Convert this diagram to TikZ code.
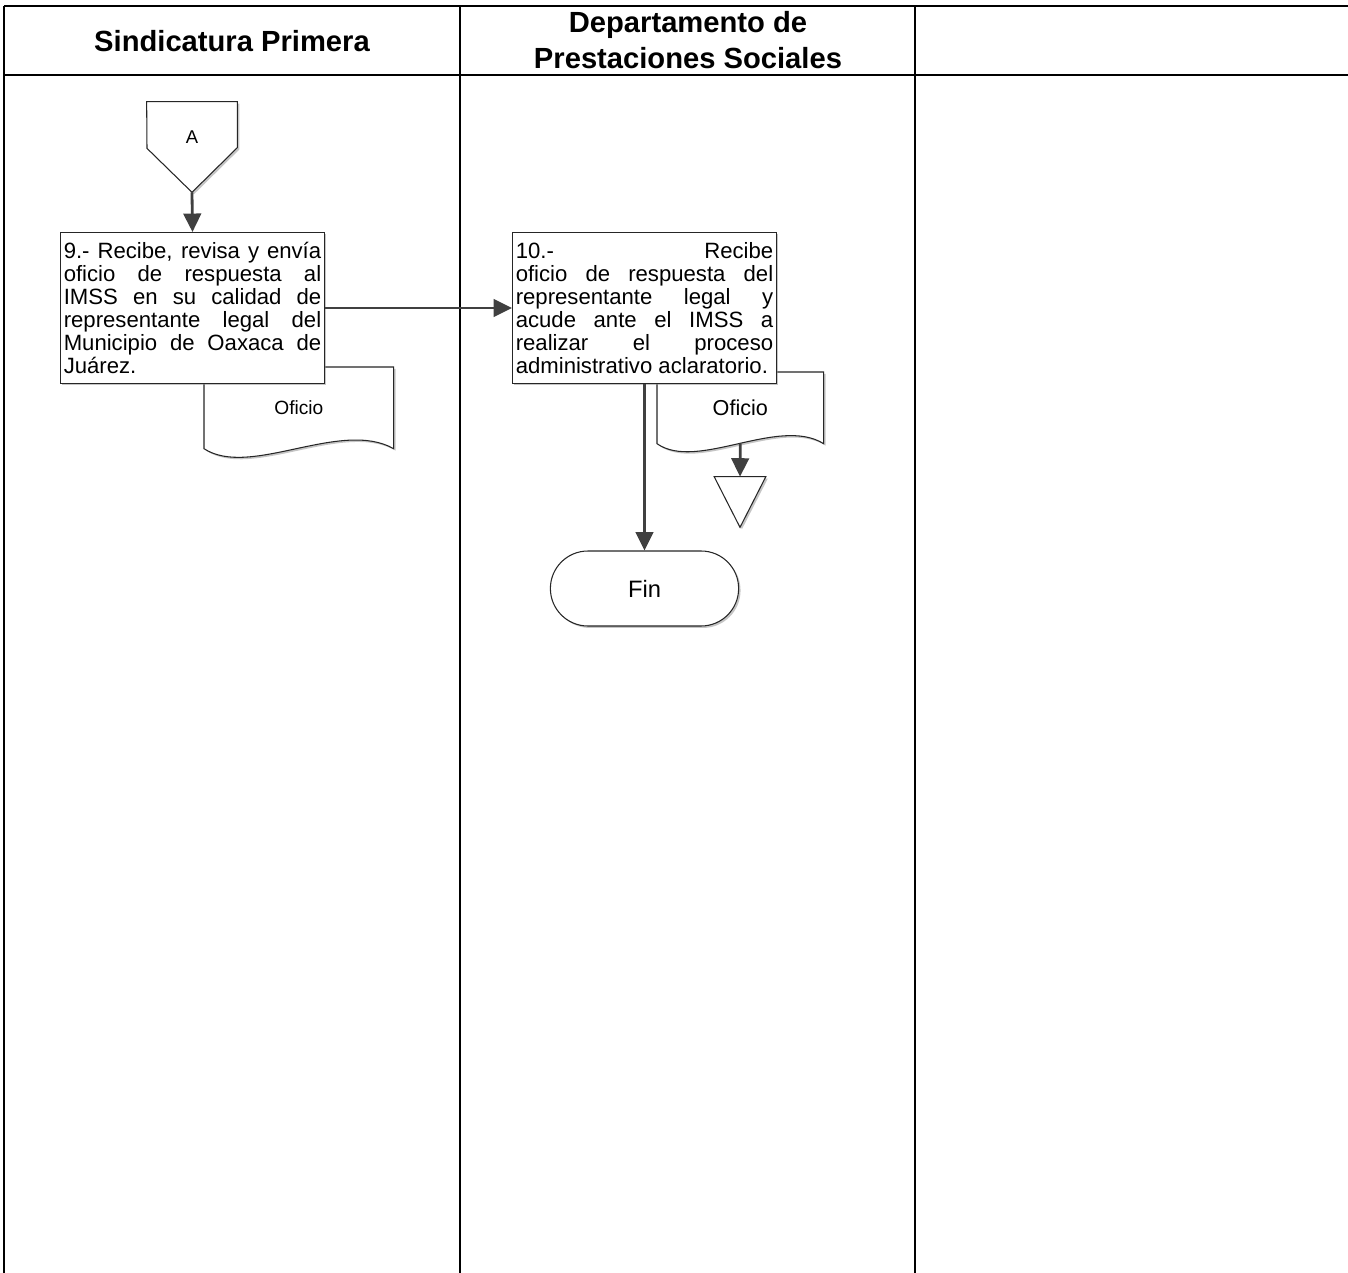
\documentclass[tikz,border=0pt]{standalone}
\usepackage{fontspec}
\setmainfont{Liberation Sans}
\usepackage{xcolor}
\usetikzlibrary{arrows.meta,positioning,shapes.misc,shadows,backgrounds}
\definecolor{linegray}{HTML}{404040}

\begin{document}
\begin{tikzpicture}[
  x=0.02cm, y=-0.02cm,
  lane/.style={line width=0.8pt},
  head/.style={line width=1.6pt},
  title/.style={align=center, font=\fontsize{16.6}{20.5}\selectfont\bfseries},
  shadowed/.style={drop shadow={shadow xshift=1.1pt, shadow yshift=-1.1pt, fill=black!45, opacity=0.5}},
  proc/.style={draw=black!85, line width=0.6pt, fill=white, shadowed, anchor=north west,
    text width=5.15cm, inner xsep=0.065cm, minimum height=3.02cm, align=justify,
    font=\fontsize{12.6}{13.1}\selectfont,
    execute at begin node={\tolerance=10000\hyphenpenalty=10000}},
  doc/.style={anchor=north west, inner sep=0pt},
  docline/.style={draw=black!85, line width=0.6pt, fill=white, shadowed},
  term/.style={rounded rectangle, draw=black!85, line width=0.6pt, fill=white, shadowed,
    minimum width=4.0cm, minimum height=1.5cm, font=\fontsize{13.5}{15}\selectfont},
  arrow/.style={-{Triangle[length=10.5pt,width=10pt]}, draw=linegray, line width=1.6pt}
]
\useasboundingbox (0,0) rectangle (1348,1273);

% swimlanes
\draw[head] (4,6) -- (1348,6);
\draw[head] (4,75) -- (1348,75);
\foreach \x in {4,460,915} {
  \draw[head] (\x,6) -- (\x,75);
  \draw[lane] (\x,75) -- (\x,1273);
}
\node[title] (sindicatura) at (232,41) {Sindicatura Primera};
\node[title] (prestaciones) at (688,40) {Departamento de\\Prestaciones Sociales};

% off-page connector
\node[minimum width=1.8cm, minimum height=1.8cm, inner sep=0pt, font=\fontsize{10.5}{12}\selectfont]
  (conA) at (192,147) {\raisebox{0.4cm}{A}};

% steps
\node[proc] (step9) at (60,232) {9.- Recibe, revisa y envía\linebreak
  oficio de respuesta al\linebreak IMSS en su calidad de\linebreak
  representante legal del\linebreak Municipio de Oaxaca de\linebreak Juárez.};
\node[proc] (step10) at (512,232) {10.- Recibe\linebreak
  oficio de respuesta del\linebreak representante legal y\linebreak
  acude ante el IMSS a\linebreak realizar el proceso\linebreak administrativo aclaratorio.};

% documents
\node[doc, minimum width=3.78cm, minimum height=1.62cm, font=\fontsize{10.9}{12}\selectfont]
  (oficioA) at (204,367) {\raisebox{-0.2cm}{Oficio}};
\node[doc, minimum width=3.32cm, minimum height=1.42cm, font=\fontsize{12.3}{14}\selectfont]
  (oficioB) at (657,372) {Oficio};
\node[minimum width=1.02cm, minimum height=1cm, inner sep=0pt] (archivo) at (740,502) {};

\node[term] (fin) at (644.5,588.5) {Fin};

\begin{scope}[on background layer]
  \draw[docline] (conA.north west) -- (conA.north east) -- ++(0,46) -- (conA.south) -- ++(-45,-44) -- cycle;
  \draw[docline] (oficioA.south west) -- (oficioA.north west) -- (oficioA.north east) -- (oficioA.south east)
    .. controls +(-53,-30) and +(46,30) .. (oficioA.south west) -- cycle;
  \draw[docline] (oficioB.south west) -- (oficioB.north west) -- (oficioB.north east) -- (oficioB.south east)
    .. controls +(-45,-28) and +(40,28) .. (oficioB.south west) -- cycle;
  \draw[docline] (archivo.north west) -- (archivo.north east) -- (archivo.south) -- cycle;
\end{scope}

\draw[arrow] (conA.south) -- (step9.north);
\draw[arrow] (step9.east) -- (step10.west);
\draw[arrow] (step10.south) -- (fin.north);
\draw[arrow] (oficioB.south) -- (archivo.north);
\end{tikzpicture}
\end{document}
